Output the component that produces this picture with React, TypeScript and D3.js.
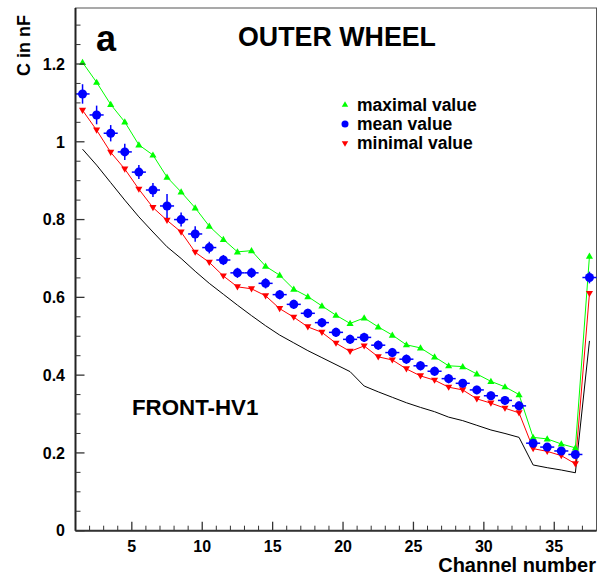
import React from "react";
import * as d3 from "d3";

const channels = [1.5, 2.5, 3.5, 4.5, 5.5, 6.5, 7.5, 8.5, 9.5, 10.5, 11.5, 12.5, 13.5, 14.5, 15.5, 16.5, 17.5, 18.5, 19.5, 20.5, 21.5, 22.5, 23.5, 24.5, 25.5, 26.5, 27.5, 28.5, 29.5, 30.5, 31.5, 32.5, 33.5, 34.5, 35.5, 36.5, 37.5];

const maxValues = [1.204, 1.153, 1.096, 1.051, 0.992, 0.966, 0.909, 0.871, 0.830, 0.783,
  0.749, 0.717, 0.720, 0.680, 0.657, 0.621, 0.602, 0.578, 0.554, 0.533,
  0.547, 0.524, 0.503, 0.478, 0.470, 0.447, 0.424, 0.422, 0.403, 0.384,
  0.370, 0.350, 0.240, 0.236, 0.223, 0.213, 0.706];

const meanValues = [1.123, 1.069, 1.022, 0.974, 0.922, 0.876, 0.835, 0.800, 0.763, 0.728,
  0.696, 0.663, 0.663, 0.636, 0.607, 0.582, 0.559, 0.535, 0.510, 0.492,
  0.497, 0.477, 0.458, 0.441, 0.424, 0.410, 0.391, 0.379, 0.362, 0.347,
  0.335, 0.321, 0.225, 0.215, 0.205, 0.196, 0.651];

const meanErrors = [0.025, 0.024, 0.021, 0.021, 0.018, 0.018, 0.031, 0.018, 0.020, 0.015,
  0.013, 0.013, 0.013, 0.013, 0.012, 0.012, 0.012, 0.012, 0.012, 0.012,
  0.012, 0.012, 0.012, 0.012, 0.012, 0.012, 0.012, 0.011, 0.011, 0.011,
  0.011, 0.011, 0.011, 0.010, 0.010, 0.010, 0.015];

const minValues = [1.081, 1.030, 0.973, 0.930, 0.878, 0.831, 0.798, 0.768, 0.716, 0.690,
  0.655, 0.627, 0.622, 0.604, 0.571, 0.549, 0.524, 0.510, 0.482, 0.461,
  0.475, 0.447, 0.439, 0.416, 0.398, 0.387, 0.369, 0.362, 0.339, 0.328,
  0.315, 0.303, 0.211, 0.204, 0.193, 0.172, 0.610];

const refValues = [0.981, 0.940, 0.895, 0.850, 0.807, 0.768, 0.730, 0.700, 0.667, 0.636,
  0.608, 0.580, 0.553, 0.527, 0.503, 0.483, 0.463, 0.445, 0.427, 0.409,
  0.372, 0.357, 0.343, 0.329, 0.317, 0.306, 0.292, 0.283, 0.271, 0.259,
  0.250, 0.240, 0.169, 0.162, 0.156, 0.149, 0.488];

const xMajorTicks = [5, 10, 15, 20, 25, 30, 35];
const yMajorTicks = [0, 0.2, 0.4, 0.6, 0.8, 1, 1.2];
const yTickLabels = ["0", "0.2", "0.4", "0.6", "0.8", "1", "1.2"];
const legendLabels = ["maximal value", "mean value", "minimal value"];

const W = 601, H = 582;
const L = 75.5, R = 596.5, T = 8, B = 530.7;
const FONT = "'Liberation Sans', Arial, Helvetica, sans-serif";

export default function App() {
  const x = d3.scaleLinear().domain([1, 38]).range([L, R]);
  const y = d3.scaleLinear().domain([0, 1.344]).range([B, T]);

  const line = (vals: number[]) =>
    d3.line<number>().x((_, i) => x(channels[i])).y((v) => y(v))(vals) || "";

  const tri = d3.symbol(d3.symbolTriangle, 22)() || "";
  const legendTri = d3.symbol(d3.symbolTriangle, 18)() || "";

  const xMinor = d3.range(2, 38, 1).filter((v) => v % 5 !== 0);
  const yMinor = d3.range(0, 1.33, 0.05).filter((v) => Math.abs(v * 5 - Math.round(v * 5)) > 1e-6);

  return (
    <svg width={W} height={H} style={{ position: "absolute", left: 0, top: 0, background: "#fff" }} fontFamily={FONT}>
      <rect x={0} y={0} width={W} height={H} fill="#fff" />
      <rect x={L} y={T} width={R - L} height={B - T} fill="none" stroke="#555" strokeWidth={1} />

      <path d={line(refValues)} fill="none" stroke="#000" strokeWidth={1} />
      <path d={line(maxValues)} fill="none" stroke="#00ff00" strokeWidth={1} />
      <path d={line(minValues)} fill="none" stroke="#ff0000" strokeWidth={1} />

      {maxValues.map((v, i) => (
        <path key={"g" + i} d={tri} transform={`translate(${x(channels[i])},${y(v) + 0.5})`} fill="#00ff00" />
      ))}
      {minValues.map((v, i) => (
        <path key={"r" + i} d={tri} transform={`translate(${x(channels[i])},${y(v) - 0.5}) rotate(180)`} fill="#ff0000" />
      ))}
      {meanValues.map((v, i) => {
        const cx = x(channels[i]);
        return (
          <g key={"b" + i}>
            <line x1={x(channels[i] - 0.5)} x2={x(channels[i] + 0.5)} y1={y(v)} y2={y(v)} stroke="#0000ff" strokeWidth={1.5} />
            <line x1={cx} x2={cx} y1={y(v - meanErrors[i])} y2={y(v + meanErrors[i])} stroke="#0000ff" strokeWidth={1.5} />
            <circle cx={cx} cy={y(v)} r={4.5} fill="#0000ff" />
          </g>
        );
      })}

      <line x1={L} x2={L} y1={T} y2={B} stroke="#222" strokeWidth={2} />
      <line x1={L} x2={R} y1={B} y2={B} stroke="#333" strokeWidth={2} />
      {xMajorTicks.map((t) => (
        <g key={"xt" + t}>
          <line x1={x(t)} x2={x(t)} y1={B} y2={B - 9} stroke="#333" strokeWidth={1.3} />
          <text x={x(t)} y={551.5} textAnchor="middle" fontSize={16} fontWeight="bold">{t}</text>
        </g>
      ))}
      {xMinor.map((t) => (
        <line key={"xm" + t} x1={x(t)} x2={x(t)} y1={B} y2={B - 5} stroke="#333" strokeWidth={1} />
      ))}
      {yMajorTicks.map((t, i) => (
        <g key={"yt" + t}>
          <line x1={L} x2={L + 9} y1={y(t)} y2={y(t)} stroke="#333" strokeWidth={1.3} />
          <text x={65} y={y(t)} dy="0.36em" textAnchor="end" fontSize={16} fontWeight="bold">{yTickLabels[i]}</text>
        </g>
      ))}
      {yMinor.map((t, i) => (
        <line key={"ym" + i} x1={L} x2={L + 5} y1={y(t)} y2={y(t)} stroke="#333" strokeWidth={1} />
      ))}

      <text x={596} y={572} textAnchor="end" fontSize={20} fontWeight="bold">Channel number</text>
      <text transform="translate(30,15) rotate(-90)" textAnchor="end" fontSize={18} fontWeight="bold">C in nF</text>

      <text x={96} y={51} fontSize={36} fontWeight="bold">a</text>
      <text x={238} y={46} fontSize={26.8} fontWeight="bold">OUTER WHEEL</text>
      <text x={132} y={415} fontSize={22.3} fontWeight="bold">FRONT-HV1</text>

      {legendLabels.map((lab, i) => {
        const ly = 105 + i * 19;
        return (
          <g key={"lg" + i}>
            {i === 0 && <path d={legendTri} transform={`translate(345,${ly})`} fill="#00ff00" />}
            {i === 1 && <circle cx={345} cy={ly} r={3.5} fill="#0000ff" />}
            {i === 2 && <path d={legendTri} transform={`translate(345,${ly}) rotate(180)`} fill="#ff0000" />}
            <text x={357} y={ly} dy="0.35em" fontSize={17.5} fontWeight="bold">{lab}</text>
          </g>
        );
      })}
    </svg>
  );
}
